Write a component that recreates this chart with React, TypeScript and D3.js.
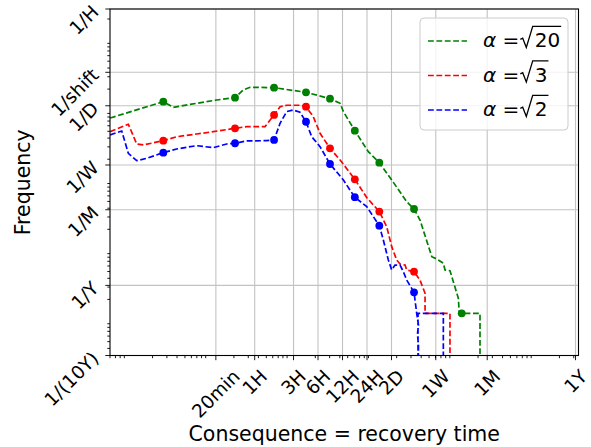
import React, { useEffect, useRef } from 'react';
import * as d3 from 'd3';

// recovery time in hours, frequency in events per year
const greenX = [0.0167, 0.0753, 0.1, 0.194, 0.341, 0.573, 0.724, 0.876, 1.73, 4.27, 8.42, 11.2, 12.3, 17.0, 24.9, 34.0, 48.3, 73.8, 90.8, 107.5, 150, 172.5, 208, 218, 251, 276, 318, 327, 350, 587, 587];
const greenY = [244, 417, 347, 396, 441, 476, 613, 670, 661, 568, 461, 396, 301, 161, 80.8, 56.3, 31.9, 15.6, 12.3, 8.57, 2.57, 2.38, 2.07, 1.66, 1.62, 1.13, 0.655, 0.4, 0.4, 0.4, 0];

const redX = [0.0167, 0.028, 0.0355, 0.0428, 0.0753, 0.11, 0.194, 0.31, 0.573, 0.798, 1.34, 1.73, 2.05, 2.47, 3.6, 4.27, 5.25, 6.35, 8.42, 11.2, 17.0, 23.8, 34.0, 41.9, 48.3, 55.6, 61.1, 70.4, 73.8, 90.8, 107.5, 124, 124, 251, 251];
const redY = [156, 199, 104, 100.7, 116, 132, 144.5, 156, 174, 184, 184, 270, 354, 371, 371, 354, 255, 148, 90.3, 61.5, 32.6, 17.9, 11.3, 6.88, 3.57, 2.3, 2.02, 1.95, 1.66, 1.57, 1.19, 0.771, 0.4, 0.4, 0];

const blueX = [0.0167, 0.0232, 0.028, 0.0355, 0.0471, 0.0753, 0.11, 0.194, 0.31, 0.453, 0.573, 0.798, 1.4, 1.73, 2.05, 2.47, 2.98, 3.6, 4.27, 5.02, 6.35, 8.42, 12.3, 14.8, 17.0, 23.8, 34.0, 38.1, 43.9, 48.3, 53.0, 61.1, 67.1, 73.8, 90.8, 97.9, 103, 100, 103, 101.6, 101.6, 208, 208];
const blueY = [140, 159.5, 76.6, 60.1, 65.0, 78.2, 88.3, 98.4, 92.1, 104, 106.5, 115, 116, 119, 205, 301, 318, 295, 216, 132, 95.2, 53.9, 31.9, 23.0, 18.1, 13.3, 7.11, 4.44, 2.3, 1.66, 1.95, 1.95, 1.57, 1.19, 0.797, 0.4, 0.27, 0.2, 0.14, 0, 0.4, 0.4, 0];

// dots
const markX = [0.0753, 0.573, 1.73, 4.27, 8.42, 17.0, 34.0, 90.8, 350];
const greenMarkY = [417, 476, 661, 568, 461, 161, 56.3, 12.3, 0.4];
const redMarkY = [116, 174, 270, 354, 90.3, 32.6, 11.3, 1.57];
const blueMarkY = [78.2, 106.5, 119, 216, 53.9, 18.1, 7.11, 0.797];

const xTickHours = [1 / 3, 1, 3, 6, 12, 24, 48, 168, 720, 8760];
const xTickLabels = ['20min', '1H', '3H', '6H', '12H', '24H', '2D', '1W', '1M', '1Y'];
const yTickPerYear = [8760, 1095, 365, 365 / 7, 12, 1, 0.1];
const yTickLabels = ['1/H', '1/shift', '1/D', '1/W', '1/M', '1/Y', '1/(10Y)'];

const legendRadicands = ['20', '3', '2'];

const W = 591, H = 447;
const M = { left: 110, right: 578.5, top: 9, bottom: 355.5 };
const FONT = '"DejaVu Sans", sans-serif';
const S = Math.SQRT1_2;

export default function App() {
  const ref = useRef<SVGSVGElement>(null);

  useEffect(() => {
    const svg = d3.select(ref.current);
    svg.selectAll('*').remove();

    const x = d3.scaleLog().domain([1 / 60, 9530]).range([M.left, M.right]);
    const y = d3.scaleLog().domain([0.1, 8760]).range([M.bottom, M.top]);

    svg.append('defs').append('clipPath').attr('id', 'plotclip')
      .append('rect').attr('x', M.left).attr('y', M.top)
      .attr('width', M.right - M.left).attr('height', M.bottom - M.top);

    // grid
    const grid = svg.append('g').attr('stroke', '#b0b0b0').attr('stroke-width', 1.1).attr('opacity', 0.75);
    xTickHours.forEach(h => {
      grid.append('line').attr('x1', x(h)).attr('x2', x(h)).attr('y1', M.top).attr('y2', M.bottom);
    });
    yTickPerYear.forEach(v => {
      grid.append('line').attr('x1', M.left).attr('x2', M.right).attr('y1', y(v)).attr('y2', y(v));
    });

    // curves
    const series = [
      { xs: greenX, ys: greenY, my: greenMarkY, color: '#008000' },
      { xs: redX, ys: redY, my: redMarkY, color: '#ff0000' },
      { xs: blueX, ys: blueY, my: blueMarkY, color: '#0000ff' },
    ];
    const line = d3.line<[number, number]>()
      .x(d => x(d[0]))
      .y(d => (d[1] > 0 ? y(d[1]) : M.bottom + 30));
    const plot = svg.append('g').attr('clip-path', 'url(#plotclip)');
    series.forEach(s => {
      const pts = s.xs.map((v, i) => [v, s.ys[i]] as [number, number]);
      plot.append('path').attr('d', line(pts)).attr('fill', 'none')
        .attr('stroke', s.color).attr('stroke-width', 1.7).attr('stroke-dasharray', '5.8,2.6');
      plot.selectAll(null).data(s.my).enter().append('circle')
        .attr('cx', (d, i) => x(markX[i])).attr('cy', d => y(d))
        .attr('r', 3.9).attr('fill', s.color);
    });

    // spines
    svg.append('rect').attr('x', M.left).attr('y', M.top)
      .attr('width', M.right - M.left).attr('height', M.bottom - M.top)
      .attr('fill', 'none').attr('stroke', 'black').attr('stroke-width', 1.1);

    // ticks
    const ticks = svg.append('g').attr('stroke', 'black').attr('stroke-width', 0.9);
    for (let n = 0; n < 8; n++) {
      for (let k = 2; k < 10; k++) {
        const h = (k * Math.pow(10, n)) / 3600; // seconds based minor ticks
        if (h >= 1 / 60 && h <= 9530) {
          ticks.append('line').attr('x1', x(h)).attr('x2', x(h)).attr('y1', M.bottom).attr('y2', M.bottom + 2.7);
        }
      }
    }
    for (let n = -10; n < -2; n++) {
      for (let k = 2; k < 10; k++) {
        const v = k * Math.pow(10, n) * 31536000; // Hz based minor ticks
        if (v >= 0.1 && v <= 8760) {
          ticks.append('line').attr('x1', M.left - 2.7).attr('x2', M.left).attr('y1', y(v)).attr('y2', y(v));
        }
      }
    }
    xTickHours.forEach(h => {
      ticks.append('line').attr('x1', x(h)).attr('x2', x(h)).attr('y1', M.bottom).attr('y2', M.bottom + 4.7);
    });
    yTickPerYear.forEach(v => {
      ticks.append('line').attr('x1', M.left - 4.7).attr('x2', M.left).attr('y1', y(v)).attr('y2', y(v));
    });

    // tick labels, rotated 45
    const fs = 18.5;
    const A = 0.93 * fs, D = 0.24 * fs;
    xTickHours.forEach((h, i) => {
      const t = svg.append('text').text(xTickLabels[i]).attr('font-size', fs)
        .attr('font-family', FONT).attr('text-anchor', 'end');
      const L = (t.node() as SVGTextElement).getComputedTextLength();
      const xe = x(h) + ((L + A - D) * S) / 2;
      const ye = M.bottom + 10 + A * S;
      t.attr('transform', `translate(${xe},${ye}) rotate(-45)`);
    });
    yTickPerYear.forEach((v, i) => {
      const xe = M.left - 7 - D * S;
      const ye = y(v) - 8 + A * S;
      svg.append('text').text(yTickLabels[i]).attr('font-size', fs)
        .attr('font-family', FONT).attr('text-anchor', 'end')
        .attr('transform', `translate(${xe},${ye}) rotate(-45)`);
    });

    // axis labels
    svg.append('text').text('Consequence = recovery time')
      .attr('x', (M.left + M.right) / 2).attr('y', 441)
      .attr('text-anchor', 'middle').attr('font-size', 20.5).attr('font-family', FONT);
    svg.append('text').text('Frequency')
      .attr('transform', `translate(30,${(M.top + M.bottom) / 2}) rotate(-90)`)
      .attr('text-anchor', 'middle').attr('font-size', 20.5).attr('font-family', FONT);

    // legend
    const lg = svg.append('g');
    lg.append('rect').attr('x', 420).attr('y', 18).attr('width', 148).attr('height', 112)
      .attr('rx', 4).attr('fill', 'white').attr('fill-opacity', 0.8)
      .attr('stroke', '#cccccc').attr('stroke-width', 1);
    const lfs = 20;
    series.forEach((s, i) => {
      const base = 47 + i * 34.5;
      lg.append('line').attr('x1', 428).attr('x2', 467).attr('y1', base - 6).attr('y2', base - 6)
        .attr('stroke', s.color).attr('stroke-width', 1.7).attr('stroke-dasharray', '5.8,2.6');
      const t = lg.append('text').attr('x', 483).attr('y', base)
        .attr('font-size', lfs).attr('font-family', FONT);
      t.append('tspan').attr('font-style', 'italic').text('α');
      t.append('tspan').text(' =');
      const tw = (t.node() as SVGTextElement).getComputedTextLength();
      const x0 = 483 + tw + 1;
      const r = lg.append('text').attr('x', x0 + 0.72 * lfs).attr('y', base)
        .attr('font-size', lfs).attr('font-family', FONT).text(legendRadicands[i]);
      const rw = (r.node() as SVGTextElement).getComputedTextLength();
      const xEnd = x0 + 0.72 * lfs + rw + 1;
      const top = base - 1.03 * lfs;
      lg.append('path')
        .attr('d', `M${x0},${base - 0.38 * lfs} L${x0 + 0.12 * lfs},${base - 0.44 * lfs} L${x0 + 0.3 * lfs},${base + 0.02 * lfs} L${x0 + 0.62 * lfs},${top} L${xEnd},${top}`)
        .attr('fill', 'none').attr('stroke', 'black').attr('stroke-width', 1.3);
    });
  }, []);

  return (
    <svg ref={ref} width={W} height={H}
      style={{ position: 'absolute', left: 0, top: 0, background: 'white' }} />
  );
}
